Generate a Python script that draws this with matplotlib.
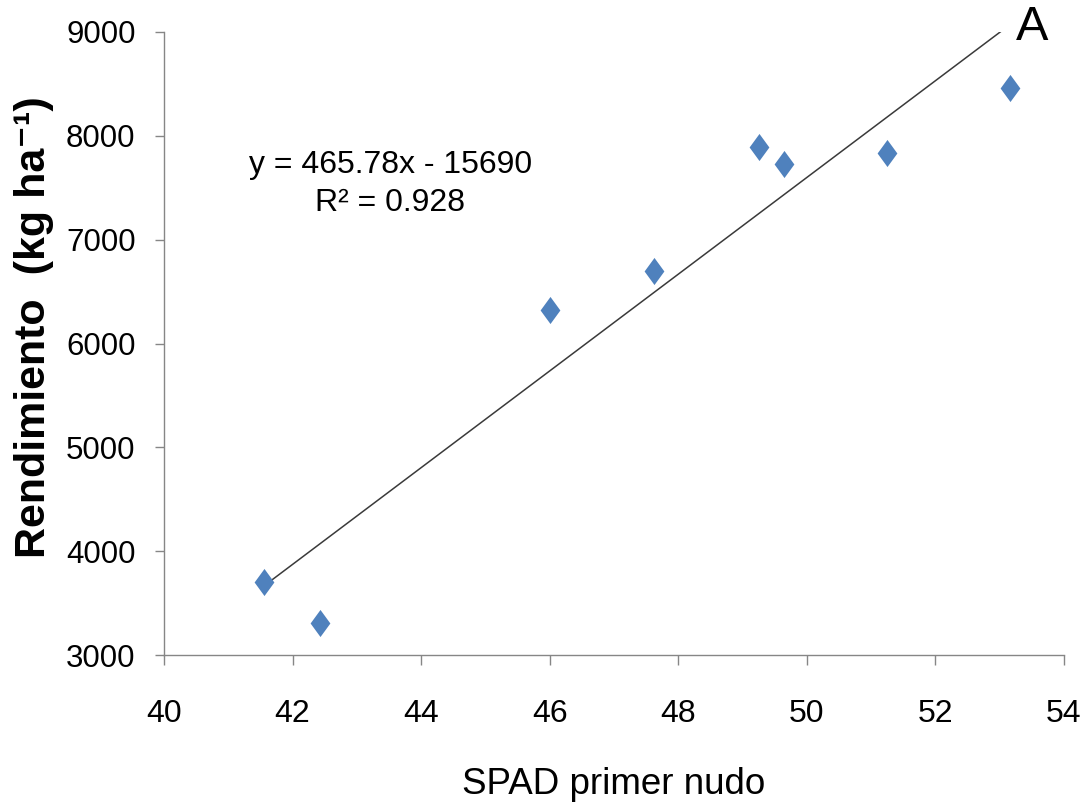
import matplotlib
matplotlib.use("Agg")
import matplotlib.pyplot as plt
import numpy as np

# ---- data ----
spad = [41.55, 42.43, 46.00, 47.62, 49.25, 49.64, 51.25, 53.16]
rendimiento = [3700, 3310, 6320, 6700, 7890, 7730, 7835, 8460]
slope = 465.78
intercept = -15690
r2 = 0.928
xticks = [40, 42, 44, 46, 48, 50, 52, 54]
yticks = [3000, 4000, 5000, 6000, 7000, 8000, 9000]

FAM = ['Liberation Sans', 'DejaVu Sans']
plt.rcParams['font.family'] = FAM

fig = plt.figure(figsize=(10.86, 8.06), dpi=100)
ax = fig.add_axes([0.1510, 0.1873, 0.8287, 0.7730])

diamond = [(0, 1), (0.73, 0), (0, -1), (-0.73, 0), (0, 1)]
ax.plot(spad, rendimiento, linestyle='none', marker=diamond, markersize=19.5,
        color='#4F81BD', markeredgewidth=0, zorder=3)

xs = np.array([min(spad), max(spad)])
ax.plot(xs, slope * xs + intercept, color='#3a3a3a', linewidth=1.1, zorder=2)

ax.set_xlim(40, 54)
ax.set_ylim(3000, 9000)
ax.set_xticks(xticks)
ax.set_yticks(yticks)
ax.set_xticklabels([str(t) for t in xticks], fontsize=23)
ax.set_yticklabels([str(t) for t in yticks], fontsize=22.5)

for s in ['top', 'right']:
    ax.spines[s].set_visible(False)
for s in ['left', 'bottom']:
    ax.spines[s].set_color('#868686')
    ax.spines[s].set_linewidth(1.0)
ax.tick_params(axis='x', direction='out', length=7.5, width=1.0, color='#868686', pad=24)
ax.tick_params(axis='y', direction='out', length=6.5, width=1.0, color='#868686', pad=14)

ax.set_xlabel('SPAD primer nudo', fontsize=26.5)
ax.xaxis.set_label_coords(0.5, -0.18)
ax.set_ylabel('Rendimiento  (kg ha\u207b\u00b9)', fontsize=31, fontweight='bold')
ax.yaxis.set_label_coords(-0.122, 0.5265)

ax.text(43.52, 7536, f'y = {slope:.2f}x - {abs(intercept)}\nR² = {r2:.3f}',
        ha='center', va='center', fontsize=23, linespacing=1.35,
        multialignment='center')

fig.text(1032 / 1086, 1 - 27 / 806, 'A', ha='center', va='center', fontsize=35)

fig.savefig('out.png', dpi=100, facecolor='white')
